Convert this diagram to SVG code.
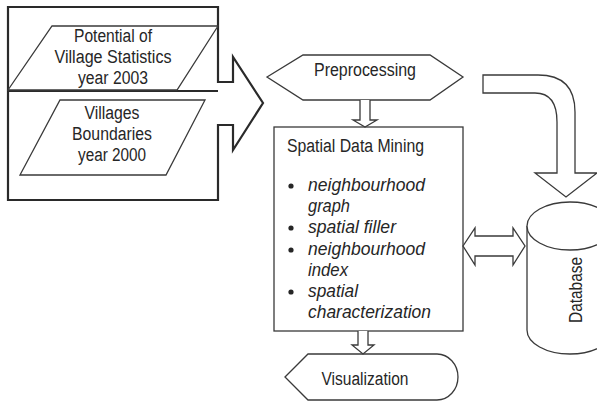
<svg xmlns="http://www.w3.org/2000/svg" width="597" height="404" viewBox="0 0 597 404">
<style>
.bg{fill:#ffffff}
.shape{fill:#ffffff;stroke:#3a3a3a;stroke-width:1.3;stroke-linejoin:miter}
.thick{fill:#ffffff;stroke:#2a2a2a;stroke-width:2.2}
.line{fill:none;stroke:#2a2a2a;stroke-width:2.2}
.arrow{fill:#ffffff;stroke:#3a3a3a;stroke-width:1.3}
.t{font-family:"Liberation Sans",Arial,sans-serif;font-size:18px;fill:#262626}
.c{text-anchor:middle}
.i{font-style:italic}
.dot{fill:#262626}
</style>
<rect class="bg" x="0" y="0" width="597" height="404"/>

<g id="input-frame">
<path class="thick" d="M8,7 H218 V82 H233 V57 L263,103 L233,150 V125 H218 V200 H8 Z"/>
<line class="line" x1="8" y1="91" x2="218" y2="91"/>
</g>

<g id="village-statistics">
<path class="shape" d="M52,26 L218,26 L177,90 L8,90 Z"/>
<text class="t c" x="113" y="42" textLength="78" lengthAdjust="spacingAndGlyphs">Potential of</text>
<text class="t c" x="113" y="63" textLength="117" lengthAdjust="spacingAndGlyphs">Village Statistics</text>
<text class="t c" x="113" y="84" textLength="70" lengthAdjust="spacingAndGlyphs">year 2003</text>
</g>

<g id="village-boundaries">
<path class="shape" d="M60,100 L205,100 L166,175 L20,175 Z"/>
<text class="t c" x="112" y="119" textLength="55" lengthAdjust="spacingAndGlyphs">Villages</text>
<text class="t c" x="112" y="140" textLength="80" lengthAdjust="spacingAndGlyphs">Boundaries</text>
<text class="t c" x="112" y="161" textLength="68" lengthAdjust="spacingAndGlyphs">year 2000</text>
</g>

<g id="preprocessing">
<path class="shape" d="M267,77 L303,55 H430 L463,77 L430,100 H303 Z"/>
<text class="t c" x="365" y="76" textLength="102" lengthAdjust="spacingAndGlyphs">Preprocessing</text>
</g>

<g id="spatial-data-mining">
<rect class="shape" x="274" y="127" width="189" height="204"/>
<text class="t" x="287" y="152" textLength="137" lengthAdjust="spacingAndGlyphs">Spatial Data Mining</text>
<circle class="dot" cx="291" cy="186" r="2.6"/>
<circle class="dot" cx="291" cy="228" r="2.6"/>
<circle class="dot" cx="291" cy="250" r="2.6"/>
<circle class="dot" cx="291" cy="292" r="2.6"/>
<text class="t i" x="308" y="191" textLength="117" lengthAdjust="spacingAndGlyphs">neighbourhood</text>
<text class="t i" x="308" y="212" textLength="42" lengthAdjust="spacingAndGlyphs">graph</text>
<text class="t i" x="308" y="233" textLength="88" lengthAdjust="spacingAndGlyphs">spatial filler</text>
<text class="t i" x="308" y="255" textLength="117" lengthAdjust="spacingAndGlyphs">neighbourhood</text>
<text class="t i" x="308" y="276" textLength="40" lengthAdjust="spacingAndGlyphs">index</text>
<text class="t i" x="308" y="297" textLength="50" lengthAdjust="spacingAndGlyphs">spatial</text>
<text class="t i" x="308" y="318" textLength="123" lengthAdjust="spacingAndGlyphs">characterization</text>
</g>

<g id="visualization">
<path class="shape" d="M285,377 L308,354 H437 A21,23 0 0 1 437,400 H308 Z"/>
<text class="t c" x="365" y="385" textLength="87" lengthAdjust="spacingAndGlyphs">Visualization</text>
</g>

<g id="database">
<path class="shape" d="M527,226 V330 A43,24 0 0 0 613,330 V226"/>
<ellipse class="shape" cx="570" cy="226" rx="43" ry="24"/>
<text class="t c" transform="translate(582,290) rotate(-90)" x="0" y="0" textLength="66" lengthAdjust="spacingAndGlyphs">Database</text>
</g>

<g id="connectors">
<path class="arrow" d="M360,100 V120 H353 L365,127 L377,120 H370 V100"/>
<path class="arrow" d="M358,331 V345 H352 L363,354 L374,345 H368 V331"/>
<path class="arrow" d="M463,246 L475,228 V236 H513 V228 L525,246 L513,265 V256 H475 V265 Z"/>
<path class="arrow" d="M483,75 H538 Q575,75 575,112 V173 H597 L566,197 L535,173 H557 V122 Q557,93 535,93 H483 Z"/>
</g>
</svg>
